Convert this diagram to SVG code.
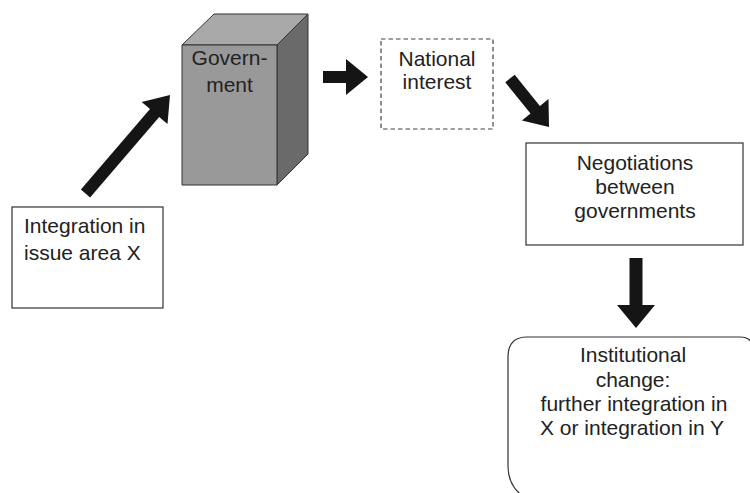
<svg xmlns="http://www.w3.org/2000/svg" width="750" height="493" viewBox="0 0 750 493">
<style>
.box{fill:#fff;stroke:#333;stroke-width:1.2}
.dash{fill:#fff;stroke:#444;stroke-width:1.2;stroke-dasharray:4.5,3}
.arrow{fill:#151515;stroke:none}
.t{font-family:"Liberation Sans",Arial,sans-serif;font-size:21px;fill:#222}
.m{text-anchor:middle}
.face{stroke:#333;stroke-width:1;stroke-linejoin:round}
</style>
<rect width="750" height="493" fill="#fff"/>
<g id="connectors">
<polygon class="arrow" points="80.9,189.6 150.0,109.1 141.7,101.9 170,95 167.5,124.1 159.2,116.9 90.1,197.4"/>
<polygon class="arrow" points="323,71 346,71 346,59 368,77 346,95 346,83 323,83"/>
<polygon class="arrow" points="505.3,82.3 514.7,74.7 539.9,106.0 548.5,99.1 549,127 521.9,120.5 530.5,113.6"/>
<polygon class="arrow" points="629.5,258 642.5,258 642.5,305 655,305 636,328 617,305 629.5,305"/>
</g>
<g id="integration">
<rect class="box" x="12" y="207" width="151" height="101"/>
<text class="t" x="24" y="233">Integration in</text>
<text class="t" x="24" y="260">issue area X</text>
</g>
<g id="government">
<polygon class="face" fill="#a9a9a9" points="182,45 214,14 308,14 277,45"/>
<polygon class="face" fill="#6a6a6a" points="277,45 308,14 308,154 277,185"/>
<rect class="face" fill="#999" x="182" y="45" width="95" height="140"/>
<text class="t m" x="229.5" y="65">Govern-</text>
<text class="t m" x="229.5" y="92">ment</text>
</g>
<g id="national">
<rect class="dash" x="381" y="39" width="112" height="90"/>
<text class="t m" x="437" y="66">National</text>
<text class="t m" x="437" y="89">interest</text>
</g>
<g id="negotiations">
<rect class="box" x="526" y="143" width="217" height="102"/>
<text class="t m" x="635" y="170">Negotiations</text>
<text class="t m" x="635" y="194">between</text>
<text class="t m" x="635" y="218">governments</text>
</g>
<g id="institutional">
<path class="box" d="M527,337 H740 Q753,337 753,350 V500 H530 Q508,490 508,466 V357 Q508,337 527,337 Z"/>
<text class="t m" x="633" y="362">Institutional</text>
<text class="t m" x="633" y="387">change:</text>
<text class="t m" x="634" y="411">further integration in</text>
<text class="t m" x="632" y="435">X or integration in Y</text>
</g>
</svg>
